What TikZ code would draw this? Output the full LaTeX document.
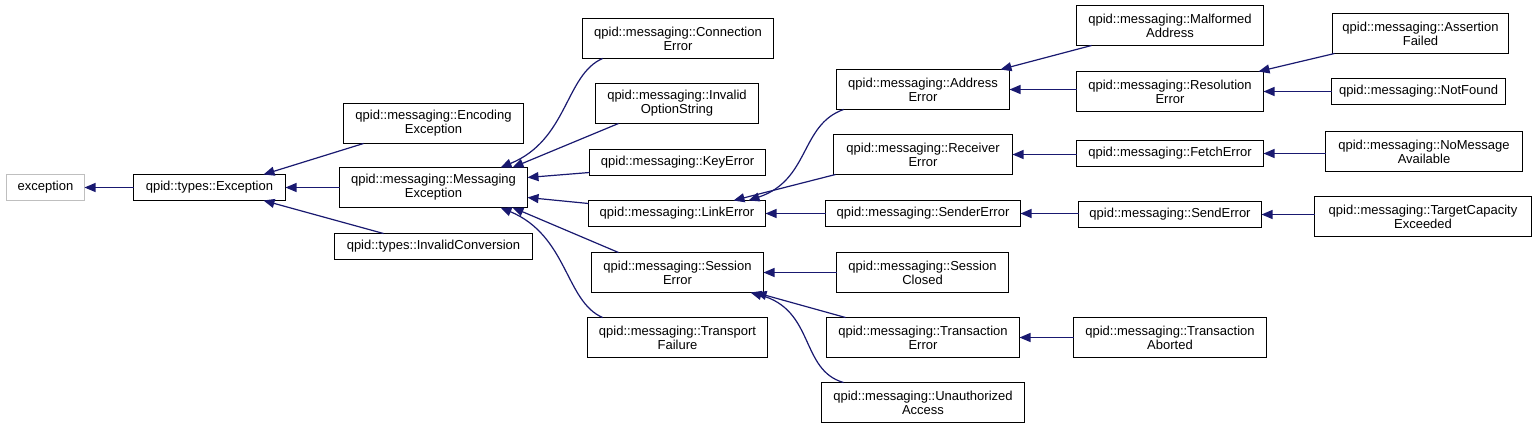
\documentclass[tikz,border=0pt]{standalone}
\usepackage{fontspec}
\setmainfont{Liberation Sans}
\usetikzlibrary{calc,arrows.meta}
\definecolor{edgeblue}{HTML}{191970}
\definecolor{boxgray}{HTML}{BFBFBF}
\newcommand{\mkbox}[7][cls]{%
  \pgfmathsetmacro{\mybw}{(#5-#3)*0.5}%
  \pgfmathsetmacro{\mybh}{(#6-#4)*0.5}%
  \node[#1, minimum width=\mybw pt, minimum height=\mybh pt] (#2) at ({(#3+#5)/2},{(#4+#6)/2}) {#7};}
\begin{document}
\begin{tikzpicture}[x=0.5pt,y=-0.5pt, font=\fontsize{6.5}{7}\selectfont,
  cls/.style={draw=black, line width=0.6pt, inner sep=0pt, outer sep=0pt, align=center, fill=white},
  ext/.style={cls, draw=boxgray},
  inh/.style={draw=edgeblue, line width=0.6pt, {Triangle[length=5.5pt,width=4.5pt]}-}]
\fill[white] (0,0) rectangle (1536,428);
\useasboundingbox (0,0) rectangle (1536,428);

\mkbox[ext]{exc}{6.5}{174.5}{84.5}{200.5}{exception}
\mkbox{typ}{133.5}{174.5}{285.5}{200.5}{qpid::types::Exception}
\mkbox{enc}{343.5}{103.5}{523.5}{143.5}{qpid::messaging::Encoding\\Exception}
\mkbox{msg}{339.5}{167.5}{527.5}{207.5}{qpid::messaging::Messaging\\Exception}
\mkbox{inv}{334.5}{233.5}{532.5}{259.5}{qpid::types::InvalidConversion}
\mkbox{con}{582.5}{18.5}{773.5}{58.5}{qpid::messaging::Connection\\Error}
\mkbox{opt}{595.5}{83.5}{758.5}{123.5}{qpid::messaging::Invalid\\OptionString}
\mkbox{key}{589.5}{149.5}{765.5}{175.5}{qpid::messaging::KeyError}
\mkbox{lnk}{588.5}{200.5}{765.5}{226.5}{qpid::messaging::LinkError}
\mkbox{ses}{591.5}{252.5}{763.5}{292.5}{qpid::messaging::Session\\Error}
\mkbox{trp}{587.5}{317.5}{767.5}{357.5}{qpid::messaging::Transport\\Failure}
\mkbox{adr}{836.5}{69.5}{1009.5}{109.5}{qpid::messaging::Address\\Error}
\mkbox{rcv}{833.5}{134.5}{1012.5}{174.5}{qpid::messaging::Receiver\\Error}
\mkbox{snd}{825.5}{200.5}{1020.5}{226.5}{qpid::messaging::SenderError}
\mkbox{scl}{836.5}{252.5}{1008.5}{292.5}{qpid::messaging::Session\\Closed}
\mkbox{txe}{826.5}{317.5}{1019.5}{357.5}{qpid::messaging::Transaction\\Error}
\mkbox{una}{821.5}{382.5}{1024.5}{422.5}{qpid::messaging::Unauthorized\\Access}
\mkbox{mal}{1076.5}{5.5}{1263.5}{45.5}{qpid::messaging::Malformed\\Address}
\mkbox{res}{1076.5}{71.5}{1263.5}{111.5}{qpid::messaging::Resolution\\Error}
\mkbox{fet}{1076.5}{140.5}{1263.5}{166.5}{qpid::messaging::FetchError}
\mkbox{sde}{1078.5}{201.5}{1261.5}{227.5}{qpid::messaging::SendError}
\mkbox{txa}{1073.5}{317.5}{1266.5}{357.5}{qpid::messaging::Transaction\\Aborted}
\mkbox{asf}{1332.5}{13.5}{1508.5}{53.5}{qpid::messaging::Assertion\\Failed}
\mkbox{nfd}{1331.5}{78.5}{1505.5}{104.5}{qpid::messaging::NotFound}
\mkbox{nma}{1325.5}{131.5}{1522.5}{171.5}{qpid::messaging::NoMessage\\Available}
\mkbox{tce}{1314.5}{196.5}{1531.5}{236.5}{qpid::messaging::TargetCapacity\\Exceeded}

\draw[inh] (exc.east) -- (typ.west);
\draw[inh] ($(typ.north east)+(-22,0)$) -- ($(enc.south west)+(20,0)$);
\draw[inh] (typ.east) -- (msg.west);
\draw[inh] ($(typ.south east)+(-22,0)$) -- ($(inv.north west)+(49,0)$);
\draw[inh] ($(msg.north east)+(-27,0)$) .. controls (568,140) and (565,75) .. ($(con.south west)+(20,0)$);
\draw[inh] ($(msg.north east)+(-15,0)$) -- ($(opt.south west)+(23,0)$);
\draw[inh] ($(msg.east)+(0,-10)$) -- ($(key.south west)+(0,-3)$);
\draw[inh] ($(msg.east)+(0,10)$) -- ($(lnk.north west)+(0,3)$);
\draw[inh] ($(msg.south east)+(-15,0)$) -- ($(ses.north west)+(27,0)$);
\draw[inh] ($(msg.south east)+(-27,0)$) .. controls (568,236) and (565,301) .. ($(trp.north west)+(15,0)$);
\draw[inh] ($(lnk.north east)+(-17,0)$) .. controls (810,180) and (800,125) .. ($(adr.south west)+(7,0)$);
\draw[inh] ($(lnk.north east)+(-32,0)$) -- ($(rcv.south west)+(2,0)$);
\draw[inh] (lnk.east) -- (lnk.east -| snd.west);
\draw[inh] (ses.east) -- (scl.west);
\draw[inh] ($(ses.south east)+(-8,0)$) -- ($(txe.north west)+(19,0)$);
\draw[inh] ($(ses.south east)+(-13,0)$) .. controls (815,310) and (800,370) .. ($(una.north west)+(22,0)$);
\draw[inh] ($(adr.north east)+(-9,0)$) -- ($(mal.south west)+(15,0)$);
\draw[inh] (adr.east) -- (adr.east -| res.west);
\draw[inh] (rcv.east) -- (rcv.east -| fet.west);
\draw[inh] (snd.east) -- (snd.east -| sde.west);
\draw[inh] (txe.east) -- (txa.west);
\draw[inh] ($(res.north east)+(-5,0)$) -- ($(asf.south west)+(2,0)$);
\draw[inh] (res.east) -- (res.east -| nfd.west);
\draw[inh] (fet.east) -- (fet.east -| nma.west);
\draw[inh] (sde.east) -- (sde.east -| tce.west);
\end{tikzpicture}
\end{document}
